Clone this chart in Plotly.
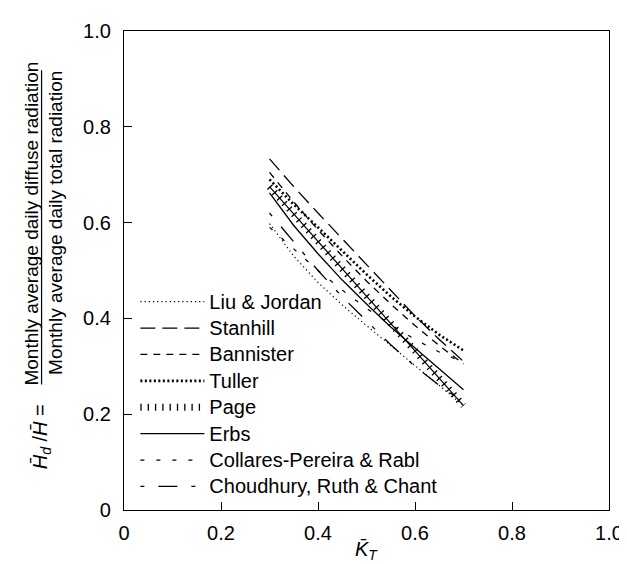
import plotly.graph_objects as go

# K_T positions
kt = [0.30, 0.35, 0.40, 0.45, 0.50, 0.55, 0.60, 0.65, 0.70]

liu_jordan = [0.598, 0.530, 0.475, 0.428, 0.385, 0.343, 0.302, 0.260, 0.218]
stanhill   = [0.733, 0.675, 0.620, 0.566, 0.512, 0.458, 0.405, 0.356, 0.310]
bannister  = [0.705, 0.643, 0.585, 0.530, 0.478, 0.430, 0.385, 0.343, 0.305]
tuller     = [0.690, 0.638, 0.590, 0.540, 0.492, 0.446, 0.404, 0.366, 0.333]
page       = [0.675, 0.618, 0.561, 0.504, 0.447, 0.390, 0.332, 0.275, 0.218]
erbs       = [0.662, 0.594, 0.535, 0.480, 0.430, 0.382, 0.338, 0.295, 0.251]
collares   = [0.590, 0.544, 0.500, 0.459, 0.421, 0.387, 0.356, 0.330, 0.308]
choudhury  = [0.620, 0.560, 0.500, 0.445, 0.395, 0.345, 0.300, 0.260, 0.225]

x_ticks = [0, 0.2, 0.4, 0.6, 0.8, 1.0]
x_tick_text = ["0", "0.2", "0.4", "0.6", "0.8", "1.0"]
y_ticks = [0, 0.2, 0.4, 0.6, 0.8, 1.0]
y_tick_text = ["0", "0.2", "0.4", "0.6", "0.8", "1.0"]

series = [
    ("Liu & Jordan", liu_jordan, dict(dash="1.2px,3px", width=1.2)),
    ("Stanhill", stanhill, dict(dash="15px,7px", width=1.3)),
    ("Bannister", bannister, dict(dash="7px,6px", width=1.3)),
    ("Tuller", tuller, dict(dash="2px,2.5px", width=2.6)),
    ("Page", page, None),
    ("Erbs", erbs, dict(width=1.3)),
    ("Collares-Pereira & Rabl", collares, dict(dash="4px,12px", width=1.2)),
    ("Choudhury, Ruth & Chant", choudhury, dict(dash="4px,14px,19px,14px", width=1.3)),
]

fig = go.Figure()
for name, vals, ln in series:
    label = '<span style="font-size:20px">' + name + '</span>'
    if name == "Page":
        # thin base line
        fig.add_trace(go.Scatter(x=kt, y=vals, mode="lines", showlegend=False,
                                 hoverinfo="skip",
                                 line=dict(color="black", width=1.2)))
        # cross ticks along the line
        fig.add_trace(go.Scatter(x=kt, y=vals, mode="lines", name=label,
                                 line=dict(color="black", width=7, dash="1.3px,6px")))
    else:
        fig.add_trace(go.Scatter(x=kt, y=vals, mode="lines", name=label,
                                 line=dict(color="black", **ln)))

font_family = "Liberation Sans, Arial, sans-serif"

fig.update_layout(
    width=627, height=564,
    margin=dict(l=116, r=20, t=15, b=62),
    paper_bgcolor="white", plot_bgcolor="white",
    font=dict(family=font_family, color="black", size=18),
    showlegend=True,
    legend=dict(x=0.0234, y=0.473, xanchor="left", yanchor="top",
                bgcolor="rgba(0,0,0,0)", font=dict(size=18),
                itemwidth=64, tracegroupgap=0),
)
fig.update_xaxes(range=[0, 1.0], tickvals=x_ticks, ticktext=x_tick_text,
                 ticks="inside", ticklen=8, tickwidth=1, tickcolor="black",
                 showline=True, linecolor="black", linewidth=1.3, mirror=True,
                 showgrid=False, zeroline=False, tickfont=dict(size=20),
                 ticklabelstandoff=5)
fig.update_yaxes(range=[0, 1.0], tickvals=y_ticks, ticktext=y_tick_text,
                 ticks="inside", ticklen=8, tickwidth=1, tickcolor="black",
                 showline=True, linecolor="black", linewidth=1.3, mirror=True,
                 showgrid=False, zeroline=False, tickfont=dict(size=20),
                 ticklabelstandoff=8)

# x-axis title
fig.add_annotation(xref="paper", yref="paper", x=0.5, y=-0.084,
                   text="<i>K\u0304</i><sub><i>T</i></sub>", showarrow=False,
                   font=dict(size=20), xanchor="center", yanchor="middle")

# y-axis title as a fraction
fig.add_annotation(xref="paper", yref="paper", x=-0.1927, y=0.597,
                   text="Monthly average daily diffuse radiation",
                   textangle=-90, showarrow=False, font=dict(size=19),
                   xanchor="center", yanchor="middle")
fig.add_annotation(xref="paper", yref="paper", x=-0.1417, y=0.600,
                   text="Monthly average daily total radiation",
                   textangle=-90, showarrow=False, font=dict(size=19),
                   xanchor="center", yanchor="middle")
fig.add_shape(type="line", xref="paper", yref="paper",
              x0=-0.170, x1=-0.170, y0=0.262, y1=0.918,
              line=dict(color="black", width=1.2))
fig.add_annotation(xref="paper", yref="paper", x=-0.170, y=0.153,
                   text="<i>H\u0304</i><sub><i>d</i></sub> /<i>H\u0304</i> =",
                   textangle=-90, showarrow=False, font=dict(size=20),
                   xanchor="center", yanchor="middle")

fig.write_html("out.html")
